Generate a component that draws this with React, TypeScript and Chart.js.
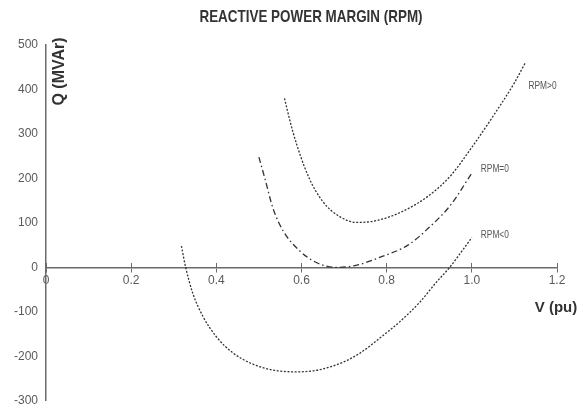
import React, { useEffect, useRef } from "react";
import { Chart, registerables } from "chart.js";

Chart.register(...registerables);

// ---- data (V in pu, Q in MVAr) ----
const RPM_POS_V = [0.56, 0.58, 0.615, 0.65, 0.69, 0.73, 0.78, 0.84, 0.9, 0.95, 1.0, 1.05, 1.1, 1.125];
const RPM_POS_Q = [380, 304, 207, 148, 114, 101, 106, 127, 162, 206, 270, 340, 415, 459];

const RPM_ZERO_V = [0.5, 0.514, 0.533, 0.557, 0.596, 0.635, 0.682, 0.73, 0.785, 0.85, 0.9, 0.95, 1.0];
const RPM_ZERO_Q = [248, 200, 133, 82, 37, 11, 0, 5, 23, 50, 90, 140, 212];

const RPM_NEG_V = [0.318, 0.328, 0.345, 0.369, 0.4, 0.44, 0.487, 0.534, 0.589, 0.643, 0.698, 0.737, 0.784, 0.831, 0.878, 0.917, 0.948, 0.98, 1.0];
const RPM_NEG_Q = [48, 0, -59, -111, -156, -193, -218, -231, -235, -230, -213, -193, -159, -122, -78, -33, 0, 41, 67];

const SERIES_NAMES = ["RPM>0", "RPM=0", "RPM<0"];
const TITLE = "REACTIVE POWER MARGIN (RPM)";
const X_TITLE = "V (pu)";
const Y_TITLE = "Q (MVAr)";

const X_MIN = 0, X_MAX = 1.2, X_STEP = 0.2;
const Y_MIN = -300, Y_MAX = 500, Y_STEP = 100;

const pts = (vs: number[], qs: number[]) => vs.map((v, i) => ({ x: v, y: qs[i] }));

const SANS = '"Liberation Sans", Arial, sans-serif';

// draw text horizontally condensed (mimics a narrow typeface)
function narrowText(ctx: any, text: string, x: number, y: number, font: string, squeeze: number) {
  ctx.save();
  ctx.translate(x, y);
  ctx.scale(squeeze, 1);
  ctx.font = font;
  ctx.fillText(text, 0, 0);
  ctx.restore();
}

const textPlugin = {
  id: "rpmTexts",
  afterDraw(chart: any) {
    const ctx = chart.ctx;
    const xs = chart.scales.x;
    const ys = chart.scales.y;
    ctx.save();
    ctx.textAlign = "center";
    ctx.textBaseline = "middle";
    // title
    ctx.fillStyle = "#333";
    narrowText(ctx, TITLE, 311, 17, `bold 17px ${SANS}`, 0.79);
    // x title
    ctx.font = `bold 15px ${SANS}`;
    ctx.fillText(X_TITLE, 556, 308);
    // y title rotated
    ctx.save();
    ctx.translate(59.5, 71.5);
    ctx.rotate(-Math.PI / 2);
    ctx.font = `bold 16px ${SANS}`;
    ctx.fillText(Y_TITLE, 0, 0);
    ctx.restore();
    // curve labels
    ctx.fillStyle = "#555";
    const labelPos = [
      [1.166, 407],
      [1.054, 222],
      [1.054, 73],
    ];
    SERIES_NAMES.forEach((n, i) => {
      narrowText(ctx, n, xs.getPixelForValue(labelPos[i][0]), ys.getPixelForValue(labelPos[i][1]), `11px ${SANS}`, 0.76);
    });
    ctx.restore();
  },
};

export default function App() {
  const ref = useRef<HTMLCanvasElement>(null);
  useEffect(() => {
    document.body.style.margin = "0";
    const canvas = ref.current!;
    const lineCommon = {
      borderColor: "#333",
      borderWidth: 1.3,
      pointRadius: 0,
      cubicInterpolationMode: "monotone",
      fill: false,
    };
    const chart = new Chart(canvas, {
      type: "line",
      data: {
        datasets: [
          { label: SERIES_NAMES[0], data: pts(RPM_POS_V, RPM_POS_Q), borderDash: [2, 1.6], ...lineCommon },
          { label: SERIES_NAMES[1], data: pts(RPM_ZERO_V, RPM_ZERO_Q), borderDash: [6, 3, 1.5, 3], ...lineCommon },
          { label: SERIES_NAMES[2], data: pts(RPM_NEG_V, RPM_NEG_Q), borderDash: [2, 1.6], ...lineCommon },
        ],
      },
      options: {
        responsive: false,
        animation: false,
        parsing: false as any,
        layout: { padding: { left: 0, right: 29, top: 45, bottom: 10 } },
        plugins: {
          legend: { display: false },
          title: { display: false },
          tooltip: { enabled: false },
        },
        scales: {
          x: {
            type: "linear",
            min: X_MIN,
            max: X_MAX,
            position: { y: 0 } as any,
            afterFit: (s: any) => { s.height = 0; },
            ticks: {
              stepSize: X_STEP,
              color: "#5a5a5a",
              font: { family: SANS, size: 12 },
              padding: 2,
            },
            grid: { drawOnChartArea: false, drawTicks: true, tickLength: 4, color: "#6a6a6a", lineWidth: 1 },
            border: { color: "#6a6a6a", width: 1.5 },
          },
          x2: {
            type: "linear",
            axis: "x",
            min: X_MIN,
            max: X_MAX,
            position: { y: 0 } as any,
            afterFit: (s: any) => { s.height = 0; },
            ticks: { stepSize: X_STEP, display: false },
            grid: { drawOnChartArea: false, drawTicks: true, tickLength: -4, color: "#6a6a6a", lineWidth: 1 },
            border: { display: false },
          },
          y: {
            type: "linear",
            min: Y_MIN,
            max: Y_MAX,
            position: "left",
            afterFit: (s: any) => { s.width = 46; },
            ticks: {
              stepSize: Y_STEP,
              color: "#5a5a5a",
              font: { family: SANS, size: 12 },
              padding: 8,
            },
            grid: { display: false, drawTicks: false },
            border: { color: "#6a6a6a", width: 1.5 },
          },
        },
      },
      plugins: [textPlugin],
    } as any);
    return () => chart.destroy();
  }, []);
  return <canvas ref={ref} width={586} height={416} style={{ display: "block" }} />;
}
